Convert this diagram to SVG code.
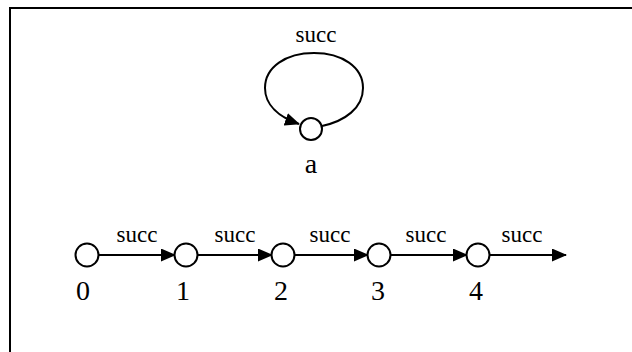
<svg xmlns="http://www.w3.org/2000/svg" width="632" height="352" viewBox="0 0 632 352">
<style>
.node{fill:#fff;stroke:#000;stroke-width:2}
.edge{fill:none;stroke:#000;stroke-width:2}
text{font-family:"Liberation Serif","Times New Roman",serif;fill:#000;text-anchor:middle}
.lbl{font-size:23px}
.num{font-size:28px}
</style>
<defs>
<marker id="ah" markerWidth="15" markerHeight="13" refX="14" refY="6.5" orient="auto" markerUnits="userSpaceOnUse">
<path d="M0,0 L15,6.5 L0,13 Z" fill="#000"/>
</marker>
</defs>
<rect x="10" y="8" width="640" height="360" fill="#fff" stroke="#000" stroke-width="2"/>
<g id="connectors">
<path class="edge" d="M322,126 C345,121 363,108 363,88 C363,67 342,53 314,53 C286,53 265,67 265,88 C265,105 279,117 299,124" marker-end="url(#ah)"/>
<line class="edge" x1="99" y1="255" x2="175" y2="255" marker-end="url(#ah)"/>
<line class="edge" x1="197" y1="255" x2="272" y2="255" marker-end="url(#ah)"/>
<line class="edge" x1="294" y1="255" x2="368" y2="255" marker-end="url(#ah)"/>
<line class="edge" x1="390" y1="255" x2="467" y2="255" marker-end="url(#ah)"/>
<line class="edge" x1="489" y1="255" x2="566" y2="255" marker-end="url(#ah)"/>
</g>
<text class="lbl" x="316" y="42">succ</text>
<text class="lbl" x="137" y="242">succ</text>
<text class="lbl" x="235" y="242">succ</text>
<text class="lbl" x="330" y="242">succ</text>
<text class="lbl" x="426" y="242">succ</text>
<text class="lbl" x="522" y="242">succ</text>
<g id="node-a"><circle class="node" cx="311" cy="129" r="11"/><text class="num" x="311" y="173">a</text></g>
<g id="node-0"><circle class="node" cx="87" cy="255" r="11.5"/><text class="num" x="83" y="300">0</text></g>
<g id="node-1"><circle class="node" cx="186" cy="255" r="11.5"/><text class="num" x="183" y="300">1</text></g>
<g id="node-2"><circle class="node" cx="283" cy="255" r="11.5"/><text class="num" x="281" y="300">2</text></g>
<g id="node-3"><circle class="node" cx="379" cy="255" r="11.5"/><text class="num" x="378" y="300">3</text></g>
<g id="node-4"><circle class="node" cx="478" cy="255" r="11.5"/><text class="num" x="476" y="300">4</text></g>
</svg>
